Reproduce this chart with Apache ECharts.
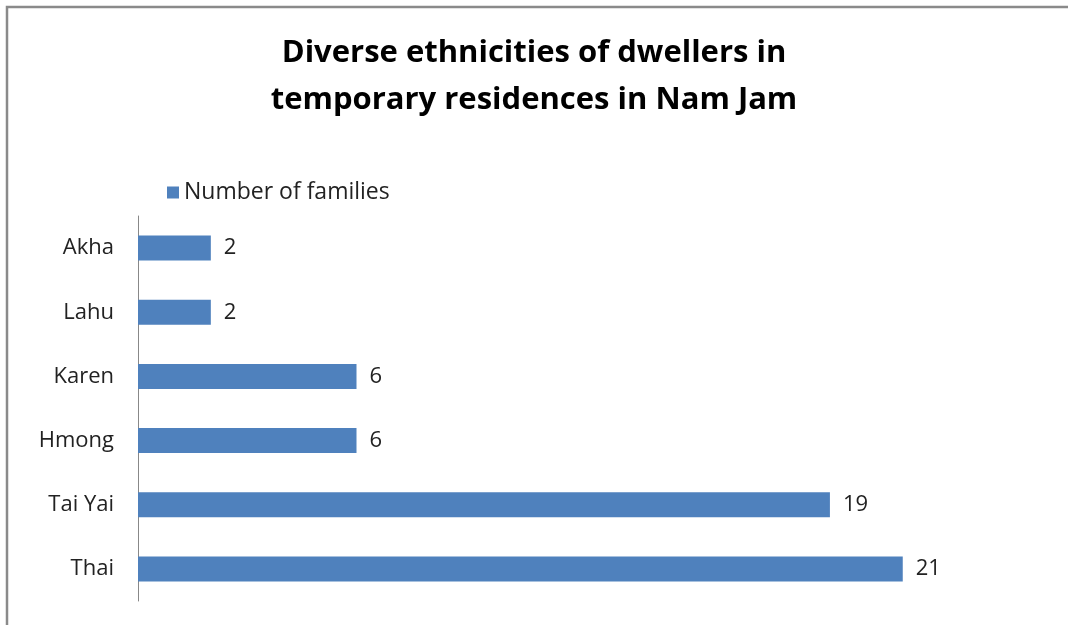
<!DOCTYPE html>
<html>
<head>
<meta charset="utf-8">
<script src="https://cdn.jsdelivr.net/npm/echarts@6/dist/echarts.min.js"></script>
<style>
    html, body { margin: 0; padding: 0; background: #fff; }
    #target { width: 1068px; height: 625px; }
</style>
</head>
<body>
<div id="target"></div>
<script>
    // data
    const categories = ['Thai', 'Tai Yai', 'Hmong', 'Karen', 'Lahu', 'Akha']
    const families = [21, 19, 6, 6, 2, 2]
    const seriesName = 'Number of families'

    const mChart = echarts.init(document.getElementById('target'))
    const font = '"Open Sans", Lato, sans-serif'

    const option = {
        backgroundColor: '#fff',
        title: {
            text: 'Diverse ethnicities of dwellers in\ntemporary residences in Nam Jam',
            left: 'center',
            top: 25,
            textStyle: {
                fontFamily: font,
                fontWeight: 'bold',
                fontSize: 31,
                lineHeight: 47,
                color: '#000'
            }
        },
        legend: {
            left: 162,
            top: 176,
            icon: 'rect',
            itemWidth: 12,
            itemHeight: 12,
            itemGap: 7,
            textStyle: {
                fontFamily: font,
                fontSize: 23,
                color: '#222'
            },
            data: [seriesName]
        },
        // 边框
        graphic: [{
            type: 'polyline',
            shape: { points: [[7, 625], [7, 7], [1068, 7]] },
            style: { stroke: '#8a8a8a', lineWidth: 2.5, fill: null }
        }],
        grid: {
            left: 138,
            top: 216,
            width: 874,
            height: 385
        },
        xAxis: {
            type: 'value',
            min: 0,
            max: 24,
            show: false
        },
        yAxis: {
            type: 'category',
            data: categories,
            axisLine: { show: true, lineStyle: { color: '#888', width: 1 } },
            axisTick: { show: false },
            axisLabel: {
                fontFamily: font,
                fontSize: 22,
                color: '#222',
                margin: 24
            },
            splitLine: { show: false }
        },
        series: [{
            name: seriesName,
            type: 'bar',
            data: families,
            barWidth: 25,
            itemStyle: { color: '#4F81BD' },
            label: {
                show: true,
                position: 'right',
                distance: 13,
                fontFamily: font,
                fontSize: 22,
                color: '#222'
            }
        }],
        animation: false
    }
    mChart.setOption(option)
    window.addEventListener('resize', function() {
        mChart.resize()
    })
</script>
</body>
</html>
